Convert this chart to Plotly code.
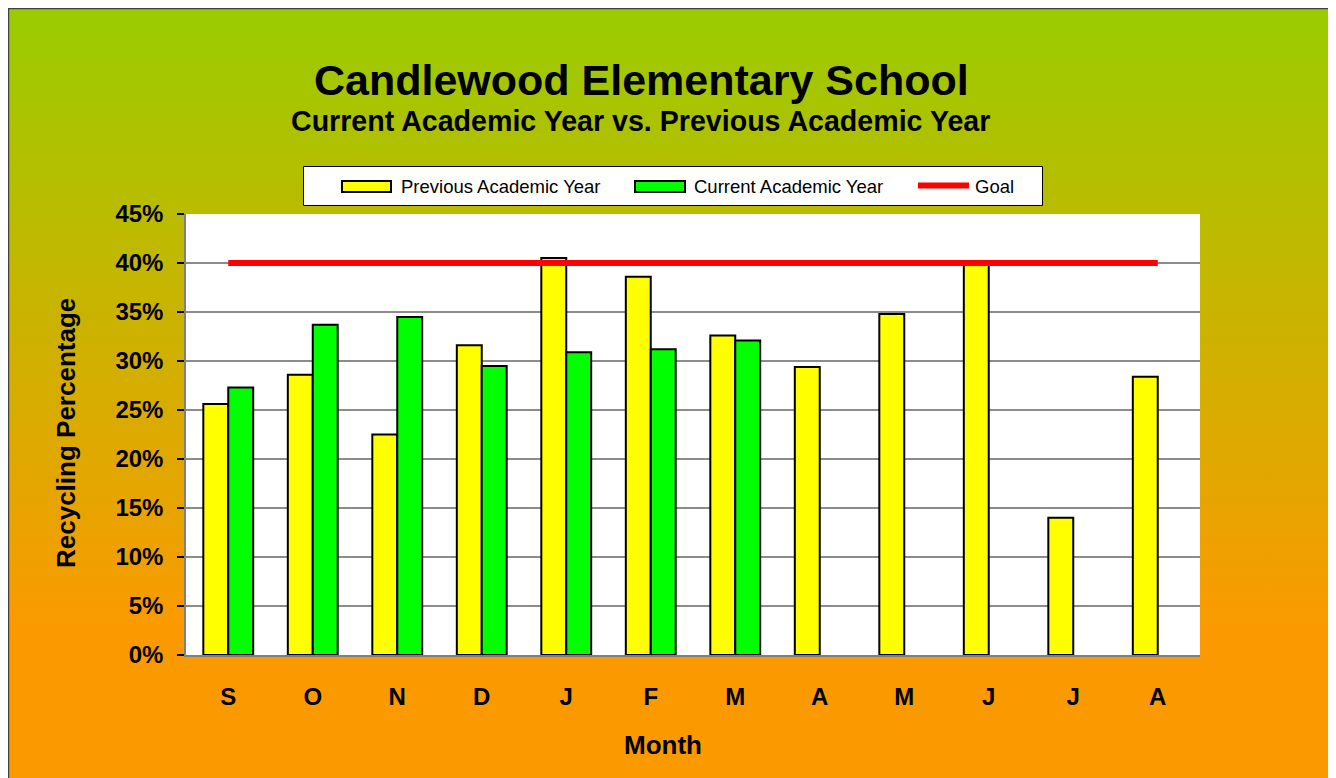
import base64
import plotly.graph_objects as go

# ---------------- data ----------------
months = ["S", "O", "N", "D", "J", "F", "M", "A", "M", "J", "J", "A"]
previous_year = [0.256, 0.286, 0.225, 0.316, 0.405, 0.386, 0.326, 0.294, 0.348, 0.399, 0.140, 0.284]
current_year = [0.273, 0.337, 0.345, 0.295, 0.309, 0.312, 0.321, None, None, None, None, None]
goal = [0.40] * 12
y_ticks = [0, 0.05, 0.10, 0.15, 0.20, 0.25, 0.30, 0.35, 0.40, 0.45]

series_names = ["Previous Academic Year", "Current Academic Year", "Goal"]
series_colors = ["#FFFF00", "#00FF00", "#FF0000"]

title_text = "Candlewood Elementary School"
subtitle_text = "Current Academic Year vs. Previous Academic Year"
x_title = "Month"
y_title = "Recycling Percentage"

# ---------------- layout geometry (figure pixels; page adds an 8px body margin) ----------------
W, H = 1336, 778
FRAME_R = 1327
L, R, T, B = 178, 1192, 206, 647
pw, ph = R - L, B - T


def px(x):
    return (x - L) / pw


def py(y):
    return (B - y) / ph


idx = list(range(len(months)))
FONT = "Liberation Sans, Arial, sans-serif"

fig = go.Figure()
fig.add_trace(go.Bar(
    x=idx, y=previous_year, name=series_names[0], showlegend=False,
    marker=dict(color=series_colors[0], line=dict(color="#000000", width=2)),
))
fig.add_trace(go.Bar(
    x=idx, y=current_year, name=series_names[1], showlegend=False,
    marker=dict(color=series_colors[1], line=dict(color="#000000", width=2)),
))
fig.add_trace(go.Scatter(
    x=idx, y=goal, name=series_names[2], mode="lines", showlegend=False,
    line=dict(color=series_colors[2], width=6),
))

# gradient background as an SVG image
svg = (
    '<svg xmlns="http://www.w3.org/2000/svg" width="100" height="100" preserveAspectRatio="none">'
    '<defs><linearGradient id="g" x1="0" y1="0" x2="0" y2="1">'
    '<stop offset="0" stop-color="#99CC00"/>'
    '<stop offset="0.80" stop-color="#FA9A00"/>'
    '<stop offset="1" stop-color="#FB9A00"/>'
    '</linearGradient></defs>'
    '<rect width="100" height="100" fill="url(#g)"/></svg>'
)
src = "data:image/svg+xml;base64," + base64.b64encode(svg.encode()).decode()

fig.add_layout_image(dict(
    source=src, xref="paper", yref="paper",
    x=px(0), y=py(-2), sizex=(FRAME_R + 1) / pw, sizey=(770 + 4) / ph,
    xanchor="left", yanchor="top", sizing="stretch", layer="below",
))

shapes = [
    # white plot area
    dict(type="rect", xref="paper", yref="paper", x0=0, x1=1, y0=0, y1=1,
         fillcolor="white", line=dict(width=0), layer="below"),
    # outer frame
    dict(type="rect", xref="paper", yref="paper", x0=px(0.6), x1=px(FRAME_R), y0=py(0.6), y1=py(780),
         fillcolor="rgba(0,0,0,0)", line=dict(color="#404040", width=1.2), layer="below"),
    # legend box
    dict(type="rect", xref="paper", yref="paper", x0=px(295.5), x1=px(1034.5), y0=py(158.5), y1=py(197.5),
         fillcolor="white", line=dict(color="#000000", width=1), layer="above"),
    # legend swatches
    dict(type="rect", xref="paper", yref="paper", x0=px(334), x1=px(383), y0=py(173), y1=py(184),
         fillcolor=series_colors[0], line=dict(color="#000000", width=2), layer="above"),
    dict(type="rect", xref="paper", yref="paper", x0=px(627), x1=px(677), y0=py(173), y1=py(184),
         fillcolor=series_colors[1], line=dict(color="#000000", width=2), layer="above"),
    dict(type="line", xref="paper", yref="paper", x0=px(910), x1=px(961), y0=py(177.5), y1=py(177.5),
         line=dict(color=series_colors[2], width=6), layer="above"),
]

annotations = [
    dict(text="<b>" + title_text + "</b>", xref="paper", yref="paper", x=px(633), y=py(72),
         xanchor="center", yanchor="middle", showarrow=False,
         font=dict(family=FONT, size=43, color="black")),
    dict(text="<b>" + subtitle_text + "</b>", xref="paper", yref="paper", x=px(632), y=py(113),
         xanchor="center", yanchor="middle", showarrow=False,
         font=dict(family=FONT, size=28.6, color="black")),
    dict(text="<b>" + x_title + "</b>", xref="paper", yref="paper", x=px(655), y=py(737),
         xanchor="center", yanchor="middle", showarrow=False,
         font=dict(family=FONT, size=26, color="black")),
    dict(text="<b>" + y_title + "</b>", xref="paper", yref="paper", x=px(58), y=py(425),
         xanchor="center", yanchor="middle", showarrow=False, textangle=-90,
         font=dict(family=FONT, size=26, color="black")),
]

legend_text_x = [391, 684, 965]
for name, lx in zip(series_names, legend_text_x):
    annotations.append(dict(
        text=name, xref="paper", yref="paper", x=px(lx), y=py(178),
        xanchor="left", yanchor="middle", showarrow=False,
        font=dict(family=FONT, size=18.5, color="black"),
    ))

fig.update_layout(
    width=W, height=H,
    margin=dict(l=L, r=W - R, t=T, b=H - B, pad=0),
    paper_bgcolor="rgba(0,0,0,0)",
    plot_bgcolor="white",
    barmode="group",
    bargap=0.41,
    bargroupgap=0,
    showlegend=False,
    shapes=shapes,
    annotations=annotations,
    xaxis=dict(
        range=[-0.5, 11.5], tickmode="array", tickvals=idx, ticktext=months,
        showgrid=False, zeroline=False, showline=True, linecolor="#808080", linewidth=2,
        ticks="", ticklabelstandoff=19,
        tickfont=dict(family=FONT, size=24, color="black", weight="bold"),
    ),
    yaxis=dict(
        range=[0, 0.45], tickmode="array", tickvals=y_ticks, tickformat=".0%",
        showgrid=True, gridcolor="#8C8C8C", gridwidth=1.5, zeroline=False,
        showline=True, linecolor="#808080", linewidth=1.5,
        ticks="outside", ticklen=7, tickcolor="black", tickwidth=1.5,
        ticklabelstandoff=9,
        tickfont=dict(family=FONT, size=24, color="black", weight="bold"),
    ),
)

fig.write_html("out.html")
